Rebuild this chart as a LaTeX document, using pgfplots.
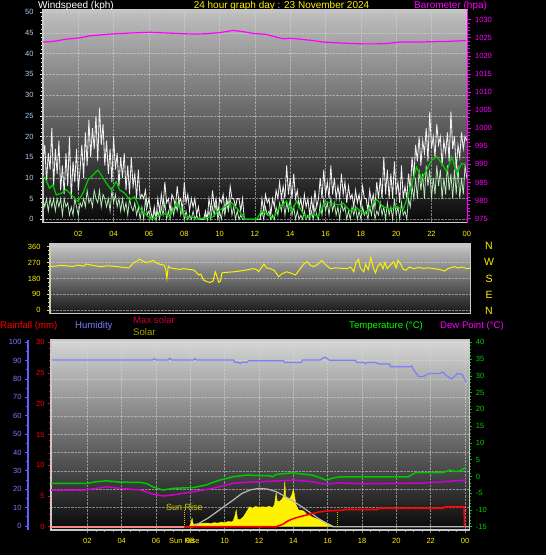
\documentclass[border=0pt]{standalone}
\usepackage{fontspec}
\setmainfont{Liberation Sans}
\usepackage{pgfplots}
\usepackage{pgfplotstable}
\pgfplotsset{compat=1.18}

\definecolor{gustw}{RGB}{240,240,240}
\definecolor{spdg}{RGB}{185,238,185}
\definecolor{avgg}{RGB}{0,205,0}
\definecolor{baro}{RGB}{255,0,255}
\definecolor{tickblue}{RGB}{175,210,245}
\definecolor{hum}{RGB}{125,125,255}
\definecolor{humaxis}{RGB}{95,95,255}
\definecolor{tempg}{RGB}{0,200,0}
\definecolor{templab}{RGB}{0,210,0}
\definecolor{dewm}{RGB}{205,0,205}
\definecolor{maxsol}{RGB}{200,0,55}
\definecolor{solarleg}{RGB}{165,165,0}
\definecolor{sunrise}{RGB}{205,205,0}
\definecolor{maxgray}{RGB}{185,185,185}
\definecolor{salmon}{RGB}{245,135,135}
\definecolor{gridc}{RGB}{215,215,215}
\definecolor{frame}{RGB}{200,200,200}

\pgfplotstableread{
h g s
0.0 14 5
0.1 18 3
0.2 9 5
0.3 16 2
0.4 12 5
0.5 22 3
0.6 8 5
0.7 17 2
0.8 11 5
0.9 19 3
1.0 7 5
1.1 13 1
1.2 6 5
1.3 16 3
1.4 8 4
1.5 20 1
1.6 5 3
1.7 14 1
1.8 9 5
1.9 17 3
2.0 7 1
2.1 12 4
2.2 18 3
2.3 10 5
2.4 21 3
2.5 13 7
2.6 24 4
2.7 15 5
2.8 22 3
2.9 17 7
3.0 25 5
3.1 14 4
3.2 27 7
3.3 18 3
3.4 23 6
3.5 13 5
3.6 19 3
3.7 11 5
3.8 17 2
3.9 9 7
4.0 20 4
4.1 12 6
4.2 16 3
4.3 8 5
4.4 15 2
4.5 10 5
4.6 16 2
4.7 7 4
4.8 13 1
4.9 6 5
5.0 15 3
5.1 8 2
5.2 11 4
5.3 5 1
5.4 12 3
5.5 5 0
5.6 6 3
5.7 5 0
5.8 7 5
5.9 3 1
6.0 5 2
6.1 2 0
6.2 0 0
6.3 3 2
6.4 0 0
6.5 5 2
6.6 2 0
6.7 6 3
6.8 3 1
6.9 9 4
7.0 4 0
7.1 5 2
7.2 2 0
7.3 6 3
7.4 5 1
7.5 3 4
7.6 8 2
7.7 4 5
7.8 5 1
7.9 2 3
8.0 9 0
8.1 4 2
8.2 6 0
8.3 2 1
8.4 5 0
8.5 3 2
8.6 5 0
8.7 1 1
8.8 3 0
8.9 0 0
9.0 0 0
9.1 0 0
9.2 2 1
9.3 0 0
9.4 5 2
9.5 2 0
9.6 7 3
9.7 3 1
9.8 5 4
9.9 1 0
10.0 5 2
10.1 4 0
10.2 6 3
10.3 2 1
10.4 5 4
10.5 3 2
10.6 8 5
10.7 5 1
10.8 5 3
10.9 3 0
11.0 5 2
11.1 5 0
11.2 2 1
11.3 5 0
11.4 0 0
11.5 0 0
11.6 0 0
11.7 0 0
11.8 0 0
11.9 0 0
12.0 0 0
12.1 0 0
12.2 0 0
12.3 0 0
12.4 5 2
12.5 2 0
12.6 6 3
12.7 4 1
12.8 5 2
12.9 1 0
13.0 5 1
13.1 3 0
13.2 7 3
13.3 5 1
13.4 9 4
13.5 5 2
13.6 8 5
13.7 5 1
13.8 13 4
13.9 6 2
14.0 10 5
14.1 5 1
14.2 11 3
14.3 5 0
14.4 7 2
14.5 3 0
14.6 5 1
14.7 2 0
14.8 6 2
14.9 3 0
15.0 5 1
15.1 1 0
15.2 5 2
15.3 2 0
15.4 7 3
15.5 3 1
15.6 5 0
15.7 10 4
15.8 5 1
15.9 12 5
16.0 6 2
16.1 9 4
16.2 5 1
16.3 13 5
16.4 6 2
16.5 10 4
16.6 5 1
16.7 8 3
16.8 5 0
16.9 11 4
17.0 6 2
17.1 9 3
17.2 4 0
17.3 8 2
17.4 5 0
17.5 6 3
17.6 3 1
17.7 7 3
17.8 4 0
17.9 6 2
18.0 3 0
18.1 8 3
18.2 5 1
18.3 5 2
18.4 2 0
18.5 7 3
18.6 4 1
18.7 6 4
18.8 3 0
18.9 9 2
19.0 5 1
19.1 10 4
19.2 5 1
19.3 15 3
19.4 6 0
19.5 12 4
19.6 5 1
19.7 11 3
19.8 5 0
19.9 14 5
20.0 6 1
20.1 9 3
20.2 4 0
20.3 13 4
20.4 5 1
20.5 8 2
20.6 5 0
20.7 11 5
20.8 7 3
20.9 15 8
21.0 10 5
21.1 18 10
21.2 14 5
21.3 20 12
21.4 13 7
21.5 19 11
21.6 16 5
21.7 22 13
21.8 14 8
21.9 26 12
22.0 17 5
22.1 20 10
22.2 15 6
22.3 23 13
22.4 18 8
22.5 20 12
22.6 13 5
22.7 19 10
22.8 16 6
22.9 21 13
23.0 14 7
23.1 26 11
23.2 17 5
23.3 20 12
23.4 12 6
23.5 18 13
23.6 15 5
23.7 21 10
23.8 17 6
23.9 20 13
24.0 19 10
}\windtab

\pgfplotsset{
  base/.style={scale only axis, anchor=north west,
    /pgf/number format/assume math mode=true,
    /pgf/number format/1000 sep={},
    tick label style={font=\fontsize{7.5}{8}\selectfont},
    tick align=outside, major tick length=3pt, minor tick length=1.8pt},
  dgrid/.style={grid style={gridc, densely dotted, line width=0.5pt, opacity=0.55}},
}

\begin{document}
\begin{tikzpicture}
\fill[black] (0pt,0pt) rectangle (546pt,-555pt);

% ---------------- Panel 1: wind ----------------
\begin{axis}[base, dgrid, at={(43pt,-10pt)}, width=424.7pt, height=212.7pt,
  xmin=0, xmax=24.05, ymin=-0.82, ymax=50.56,
  axis background/.style={top color={rgb,255:red,192;green,192;blue,192}, bottom color={rgb,255:red,8;green,8;blue,8}},
  xtick={2,4,...,24}, xticklabels={02,04,06,08,10,12,14,16,18,20,22,00},
  xticklabel style={text=yellow, yshift=-2pt},
  ytick={0,5,...,50}, minor y tick num=4,
  yticklabel style={text=tickblue, xshift=-3pt},
  xtick pos=bottom, ytick pos=left,
  grid=major,
  axis line style={frame, line width=1.2pt},
  tick style={white!85!gray, line width=0.6pt},
  xtick style={draw=none}]
\addplot[gustw, line width=0.85pt] table[x=h, y=g] {\windtab};
\addplot[spdg, line width=0.75pt] table[x=h, y=s] {\windtab};
\addplot[avgg, line width=1.2pt] coordinates {
(0.0,10.3)(0.13,9.9)(0.37,7.5)(0.56,8.3)(0.75,5.9)(1.04,6.3)(1.32,7.2)(1.60,5.9)(1.98,4.3)
(2.26,6.3)(2.55,9.5)(2.83,10.7)(3.11,11.9)(3.30,10.7)(3.59,8.7)(3.87,7.1)(4.15,9.1)(4.34,7.1)
(4.63,6.3)(4.91,4.7)(5.19,5.5)(5.48,2.7)(5.86,1.0)(6.14,0.0)(6.51,0.8)(6.89,1.4)(7.18,0.6)
(7.56,4.0)(7.84,2.0)(8.12,0.3)(8.41,0.6)(8.69,0.0)(9.26,0.4)(9.63,0.6)(9.92,2.0)(10.29,3.0)
(10.67,4.0)(10.96,2.8)(11.24,1.3)(11.43,0.0)(12.09,0.0)(12.38,2.0)(12.66,1.3)(13.03,0.3)
(13.41,3.0)(13.79,4.4)(14.08,2.0)(14.36,4.4)(14.64,2.0)(14.93,0.3)(15.30,1.3)(15.58,0.6)
(15.96,4.2)(16.34,3.9)(16.72,3.5)(17.00,3.9)(17.38,2.0)(17.76,2.8)(18.14,1.3)(18.51,2.8)
(18.89,4.8)(19.27,3.0)(19.65,2.4)(20.03,3.0)(20.40,2.4)(20.78,7.1)(21.16,12.6)(21.45,9.9)
(21.73,11.9)(22.01,14.3)(22.30,15.1)(22.58,13.5)(22.86,11.5)(23.15,15.1)(23.43,11.1)
(23.71,13.5)(23.96,13.1)};
\end{axis}

\begin{axis}[base, at={(43pt,-10pt)}, width=424.7pt, height=212.7pt,
  xmin=0, xmax=24.05, ymin=973.9, ymax=1032.65,
  hide x axis, axis y line*=right,
  axis line style={-, baro, line width=1.2pt},
  ytick={975,980,...,1030}, minor y tick num=4,
  tick style={baro, line width=0.6pt},
  yticklabel style={text=baro, xshift=1pt}]
\addplot[baro, line width=1.2pt] coordinates {
(0.0,1023.8)(0.6,1024.0)(1.32,1024.6)(2.0,1024.9)(2.64,1025.5)(3.3,1025.8)(3.96,1026.05)
(5.0,1026.3)(6.04,1026.5)(7.0,1026.3)(7.93,1026.1)(8.6,1026.0)(9.26,1026.1)(10.0,1026.4)
(10.77,1027.0)(11.3,1026.7)(11.9,1026.2)(12.66,1025.9)(13.1,1025.3)(13.6,1024.7)(14.1,1024.8)
(14.55,1024.6)(15.3,1024.2)(15.87,1023.8)(16.6,1023.6)(17.38,1023.4)(18.1,1023.3)(18.9,1023.3)
(19.5,1023.4)(20.22,1023.8)(21.2,1023.8)(22.1,1023.9)(23.0,1024.0)(23.96,1024.2)};
\end{axis}

% ---------------- Panel 2: wind direction ----------------
\begin{axis}[base, dgrid, at={(50pt,-244pt)}, width=420.7pt, height=69.3pt,
  xmin=0, xmax=24, ymin=-17, ymax=375.3,
  axis background/.style={top color={rgb,255:red,200;green,200;blue,200}, bottom color={rgb,255:red,22;green,22;blue,22}},
  xtick=\empty, ytick={0,90,180,270,360}, minor y tick num=3,
  ytick pos=left, ymajorgrids,
  yticklabel style={text=yellow, xshift=-3pt},
  axis line style={frame, line width=1.2pt},
  tick style={yellow, line width=0.6pt}]
\addplot[yellow, line width=1pt] coordinates {
(0.0,248)(0.3,250)(0.6,254)(0.95,252)(1.3,248)(1.6,256)(1.9,250)(2.1,262)(2.4,255)(2.7,250)
(2.9,247)(3.3,252)(3.8,248)(4.1,244)(4.5,240)(4.8,272)(5.0,280)(5.1,290)(5.3,278)(5.5,270)
(5.7,276)(5.9,283)(6.0,272)(6.2,262)(6.4,258)(6.5,256)(6.6,235)(6.67,181)(6.75,250)(6.86,241)
(7.1,236)(7.4,232)(7.6,236)(7.9,232)(8.2,228)(8.35,215)(8.48,200)(8.6,205)(8.76,171)(8.95,162)
(9.14,158)(9.3,165)(9.43,218)(9.5,200)(9.62,159)(9.72,165)(9.81,212)(10.1,215)(10.48,218)
(10.8,222)(11.2,228)(11.6,236)(11.8,230)(11.9,218)(12.05,240)(12.2,262)(12.35,240)(12.57,236)
(12.8,225)(13.05,190)(13.2,205)(13.5,218)(13.7,212)(14.0,200)(14.2,225)(14.45,260)(14.67,275)
(14.85,255)(15.05,247)(15.3,262)(15.5,282)(15.7,260)(16.0,236)(16.3,240)(16.6,238)(16.95,236)
(17.15,245)(17.33,218)(17.45,270)(17.6,290)(17.7,240)(17.9,218)(18.0,260)(18.15,230)(18.3,298)
(18.45,240)(18.57,212)(18.7,250)(18.86,266)(19.0,235)(19.1,270)(19.24,236)(19.4,255)(19.6,275)
(19.75,240)(19.85,283)(20.0,262)(20.15,232)(20.3,227)(20.5,245)(20.76,236)(21.0,242)(21.3,238)
(21.6,240)(21.9,236)(22.2,232)(22.5,222)(22.7,236)(23.05,247)(23.3,240)(23.5,245)(23.8,236)
(24.0,240)};
\end{axis}

% ---------------- Panel 3: main (humidity) ----------------
\begin{axis}[base, dgrid, at={(51pt,-340pt)}, width=418.3pt, height=190pt,
  xmin=-0.12, xmax=24.25, ymin=-2.18, ymax=101.25,
  axis background/.style={top color={rgb,255:red,215;green,215;blue,215}, bottom color={rgb,255:red,8;green,8;blue,8}},
  xtick={2,4,...,24}, xticklabels={02,04,06,08,10,12,14,16,18,20,22,00},
  extra x ticks={7.65}, extra x tick labels={Sun Rise},
  extra x tick style={grid=none, tick style={draw=none}},
  xticklabel style={text=yellow, yshift=-2pt},
  minor x tick num=3,
  ytick={10,20,...,90}, yticklabels={}, ytick style={draw=none},
  xtick pos=bottom, ytick pos=left,
  grid=major,
  axis line style={frame, line width=1.2pt},
  tick style={gray, line width=0.5pt}]
\addplot[hum, line width=1.2pt] coordinates {
(-0.12,90.4)(5.8,90.4)(5.9,91.2)(6.0,90.4)(6.7,90.4)(6.8,91.3)(6.9,90.4)(8.2,90.4)(8.25,91.2)
(8.35,90.4)(10.5,90.4)(10.6,89.1)(10.8,89.1)(10.9,88.4)(11.0,89.1)(11.3,89.1)(11.4,90)(13.4,90)
(13.5,89)(14.45,89)(14.55,90.4)(15.6,90.4)(15.75,91.7)(15.9,91.7)(16.1,90.2)(17.6,90.2)(17.7,89)
(18.1,89)(18.2,88.4)(18.3,89)(18.8,89)(19.0,88.2)(19.6,88.2)(19.65,86.7)(20.8,86.7)(20.9,87.2)
(21.0,85)(21.3,81.3)(21.6,81.5)(21.9,83)(22.5,83)(22.7,83.8)(22.9,82)(23.2,80)(23.4,81.5)
(23.55,83)(23.85,82.5)(24.05,78.4)};
\end{axis}

% humidity axis (offset)
\begin{axis}[base, at={(28pt,-340pt)}, width=1pt, height=190pt,
  xmin=0, xmax=1, ymin=-2.18, ymax=101.25,
  hide x axis, axis y line*=left,
  axis line style={-, humaxis, line width=2pt},
  ytick={0,10,...,100}, minor y tick num=1,
  tick style={humaxis, line width=0.8pt},
  yticklabel style={text=hum}]
\addplot[draw=none] coordinates {(0,0)};
\end{axis}

% solar axis (hidden)
\begin{axis}[base, at={(51pt,-340pt)}, width=418.3pt, height=190pt,
  xmin=-0.12, xmax=24.25, ymin=-17.9, ymax=1012.5, hide axis]
\addplot[fill=yellow, draw=yellow, line width=0.4pt] coordinates {
(-0.12,0)(7.9,0)(8.0,10)(8.1,45)(8.15,20)(8.2,10)(8.3,15)(8.6,18)(9.0,20)(9.2,17)(9.4,22)(9.6,19)
(9.8,25)(10.0,22)(10.2,28)(10.4,26)(10.5,33)(10.6,60)(10.67,90)(10.75,40)(10.9,38)(11.1,55)
(11.3,85)(11.45,108)(11.6,100)(11.8,110)(12.0,105)(12.2,108)(12.4,106)(12.6,110)(12.8,103)
(12.9,120)(13.0,184)(13.05,140)(13.2,136)(13.35,150)(13.45,170)(13.5,244)(13.55,160)(13.7,150)
(13.8,154)(13.9,170)(14.0,203)(14.05,180)(14.15,120)(14.3,90)(14.5,88)(14.6,85)(14.75,70)
(14.9,63)(15.1,52)(15.3,45)(15.5,38)(15.8,27)(16.0,18)(16.3,4)(16.5,0)(24.25,0)} \closedcycle;
\addplot[maxgray, line width=1.2pt] coordinates {
(-0.12,0)(8.16,0)(8.5,18)(9.0,45)(9.5,78)(10.0,112)(10.5,145)(11.0,180)(11.5,200)(12.0,208)
(12.5,204)(13.0,190)(13.5,165)(14.0,138)(14.5,108)(15.0,75)(15.5,42)(16.0,15)(16.3,0)(24.25,0)};
\addplot[sunrise, densely dotted, line width=1pt] coordinates {(7.65,0)(7.65,90)};
\addplot[sunrise, densely dotted, line width=1pt] coordinates {(16.6,0)(16.6,90)};
\node[text=sunrise, font=\fontsize{9}{10}\selectfont] at (axis cs:7.65,108) {Sun Rise};
\end{axis}

% rain axis
\begin{axis}[base, at={(51pt,-340pt)}, width=418.3pt, height=190pt,
  xmin=-0.12, xmax=24.25, ymin=-0.537, ymax=30.374,
  hide x axis, axis y line*=left,
  axis line style={-, frame, line width=1.2pt},
  ytick={0,5,...,30}, minor y tick num=4,
  tick style={red, line width=0.6pt},
  yticklabel style={text=red}]
\addplot[salmon, line width=1.6pt] coordinates {(-0.12,0)(7.65,0)};
\addplot[red, line width=1.6pt] coordinates {
(7.65,0)(13.0,0)(13.2,0.2)(13.4,0.4)(13.6,0.8)(13.8,1.1)(14.1,1.4)(14.35,1.6)(14.9,2.0)(15.2,2.2)
(15.5,2.4)(16.1,2.6)(16.9,2.7)(17.0,2.8)(18.9,2.8)(19.0,3.0)(22.75,3.0)(22.8,3.25)(23.95,3.25)(23.97,0)};
\end{axis}

% temperature axis
\begin{axis}[base, at={(51pt,-340pt)}, width=418.3pt, height=190pt,
  xmin=-0.12, xmax=24.25, ymin=-15.98, ymax=40.686,
  hide x axis, axis y line*=right,
  axis line style={-, frame, line width=1.2pt},
  ytick={-15,-10,...,40}, minor y tick num=4,
  tick style={tempg, line width=0.6pt},
  yticklabel style={text=templab}]
\addplot[dewm, line width=1.5pt] coordinates {
(-0.12,-4.05)(1.8,-4.05)(2.5,-3.6)(3.1,-3.1)(3.9,-3.55)(5.1,-4.05)(5.8,-5.25)(6.4,-5.85)(7.0,-5.5)
(8.2,-4.55)(9.3,-3.55)(10.5,-2.05)(11.25,-1.75)(12.8,-1.4)(14.0,-1.1)(15.1,-1.6)(15.9,-2.35)
(16.7,-1.9)(18.0,-2.2)(20.2,-2.05)(21.5,-2.0)(22.7,-1.6)(23.5,-1.3)(24.05,-1.1)};
\addplot[tempg, line width=1.5pt] coordinates {
(-0.12,-2.05)(2.0,-2.05)(2.5,-1.6)(3.1,-1.3)(3.9,-1.7)(5.1,-1.8)(5.5,-2.2)(5.8,-3.1)(6.4,-4.05)
(7.0,-3.55)(8.2,-3.3)(8.9,-2.55)(9.7,-1.1)(10.5,-0.1)(11.25,0.4)(12.6,0.2)(12.8,-0.1)(13.0,0.6)
(14.0,1.1)(14.35,0.8)(15.1,0.4)(15.5,-0.3)(15.9,-1.1)(16.3,-0.5)(16.7,-0.1)(18.2,-0.1)(20.7,-0.1)
(20.9,0.5)(21.1,1.1)(22.7,1.1)(23.1,1.9)(23.4,1.5)(23.7,1.6)(24.05,2.7)};
\end{axis}

% ---------------- Texts ----------------
\node[anchor=west, inner sep=0, text=white, font=\fontsize{10}{12}\selectfont] at (38pt,-6pt) {Windspeed (kph)};
\node[inner sep=0, text=yellow, font=\fontsize{10}{12}\selectfont] at (281.5pt,-6pt) {24 hour graph day : 23 November 2024};
\node[anchor=west, inner sep=0, text=baro, font=\fontsize{10}{12}\selectfont] at (414pt,-6pt) {Barometer (hpa)};

\foreach \l/\y in {N/245.5, W/262, S/278.5, E/295, N/311}{
  \node[inner sep=0, text=yellow, font=\fontsize{10.5}{12}\selectfont] at (489pt,-\y pt) {\l};
}

\node[anchor=west, inner sep=0, text=red, font=\fontsize{9.6}{11}\selectfont] at (0pt,-325.7pt) {Rainfall (mm)};
\node[anchor=west, inner sep=0, text=hum, font=\fontsize{9.6}{11}\selectfont] at (75pt,-325.7pt) {Humidity};
\node[anchor=west, inner sep=0, text=maxsol, font=\fontsize{9.6}{11}\selectfont] at (133pt,-320pt) {Max solar};
\node[anchor=west, inner sep=0, text=solarleg, font=\fontsize{9.6}{11}\selectfont] at (133pt,-332pt) {Solar};
\node[anchor=west, inner sep=0, text=green, font=\fontsize{9.6}{11}\selectfont] at (349pt,-325.7pt) {Temperature (°C)};
\node[anchor=west, inner sep=0, text=baro, font=\fontsize{9.6}{11}\selectfont] at (440pt,-325.7pt) {Dew Point (°C)};

\pgfresetboundingbox
\path[use as bounding box] (0pt,0pt) rectangle (546pt,-555pt);
\end{tikzpicture}
\end{document}
